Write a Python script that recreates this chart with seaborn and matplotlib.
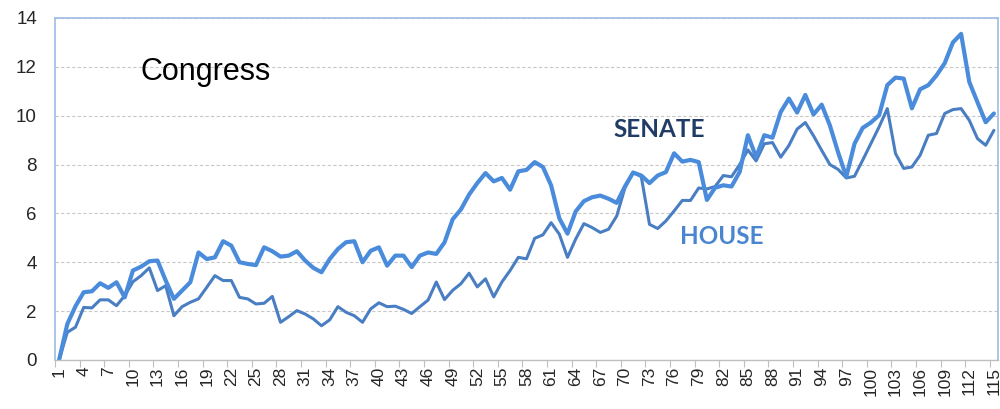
import pandas as pd
import seaborn as sns
import matplotlib.pyplot as plt
from matplotlib.ticker import FixedLocator

# congress numbers 1..115
congress = list(range(1, 116))

senate = [0, 1.47, 2.2, 2.77, 2.81, 3.14, 2.95, 3.18, 2.56, 3.66,
          3.82, 4.04, 4.07, 3.25, 2.5, 2.84, 3.18, 4.4, 4.13, 4.2,
          4.86, 4.68, 4.0, 3.93, 3.88, 4.61, 4.45, 4.23, 4.27, 4.45,
          4.07, 3.77, 3.59, 4.13, 4.54, 4.82, 4.86, 4.0, 4.47, 4.61,
          3.86, 4.27, 4.27, 3.8, 4.27, 4.4, 4.34, 4.81, 5.76, 6.16,
          6.77, 7.24, 7.65, 7.31, 7.45, 6.97, 7.72, 7.78, 8.1, 7.9,
          7.15, 5.8, 5.17, 6.08, 6.5, 6.66, 6.73, 6.6, 6.43, 7.1,
          7.67, 7.55, 7.24, 7.55, 7.69, 8.46, 8.12, 8.19, 8.1, 6.55,
          7.05, 7.15, 7.1, 7.7, 9.2, 8.3, 9.2, 9.1, 10.15, 10.7,
          10.13, 10.85, 10.05, 10.45, 9.6, 8.5, 7.5, 8.85, 9.5, 9.72,
          10.02, 11.25, 11.56, 11.52, 10.3, 11.08, 11.25, 11.65, 12.15, 13.0,
          13.35, 11.38, 10.55, 9.73, 10.09]

house = [0, 1.13, 1.34, 2.15, 2.13, 2.46, 2.46, 2.22, 2.63, 3.2,
         3.45, 3.77, 2.84, 3.04, 1.81, 2.18, 2.36, 2.5, 2.97, 3.45,
         3.25, 3.25, 2.56, 2.5, 2.29, 2.32, 2.6, 1.54, 1.77, 2.02,
         1.88, 1.68, 1.4, 1.64, 2.18, 1.95, 1.81, 1.54, 2.09, 2.34,
         2.18, 2.2, 2.07, 1.9, 2.18, 2.45, 3.19, 2.47, 2.85, 3.12,
         3.55, 2.99, 3.32, 2.58, 3.19, 3.66, 4.2, 4.14, 4.98, 5.12,
         5.62, 5.15, 4.2, 4.95, 5.58, 5.42, 5.22, 5.35, 5.89, 7.04,
         7.69, 7.5, 5.55, 5.38, 5.69, 6.1, 6.53, 6.53, 7.04, 7.0,
         7.1, 7.55, 7.5, 8.0, 8.6, 8.15, 8.85, 8.9, 8.3, 8.78,
         9.45, 9.72, 9.18, 8.58, 8.0, 7.8, 7.45, 7.52, 8.18, 8.86,
         9.54, 10.29, 8.45, 7.84, 7.9, 8.38, 9.2, 9.27, 10.09, 10.25,
         10.29, 9.81, 9.06, 8.79, 9.4]

tick_labels = [str(c) for c in congress[::3]]

df = pd.DataFrame({"congress": congress, "SENATE": senate, "HOUSE": house})

sns.set_style("white")
plt.rcParams['font.family'] = ['Liberation Sans', 'DejaVu Sans']

fig = plt.figure(figsize=(10, 4.09), dpi=100)
ax = fig.add_axes([0.055, 0.12, 0.943, 0.836])

sns.lineplot(data=df, x="congress", y="HOUSE", color="#4a7ec2", linewidth=2.2, ax=ax)
sns.lineplot(data=df, x="congress", y="SENATE", color="#4a8cdb", linewidth=3.0, ax=ax)

ax.set_xlim(0.5, 115.5)
ax.set_ylim(0, 14)
ax.set_yticks(range(0, 15, 2))
ax.yaxis.grid(True, linestyle=(0, (3, 2)), color="#c8c8c8", linewidth=0.8)
ax.set_axisbelow(True)

# labels on categories, tick marks on category boundaries
ax.set_xticks(congress[::3])
ax.set_xticklabels(tick_labels, rotation=90, fontsize=12.5)
ax.xaxis.set_minor_locator(FixedLocator([c - 0.5 for c in congress[::3]]))
ax.tick_params(axis="x", which="major", length=0, pad=5)
ax.tick_params(axis="x", which="minor", length=5, width=0.8, color="#bfbfbf", bottom=True)
ax.tick_params(axis="y", length=0, labelsize=13.5, pad=13)

ax.set_xlabel("")
ax.set_ylabel("")

for s in ["left", "top", "right"]:
    ax.spines[s].set_color("#9dbbe6")
    ax.spines[s].set_linewidth(1.2)
ax.spines["bottom"].set_color("#bfbfbf")
ax.spines["bottom"].set_linewidth(1.0)

ax.text(0.091, 0.842, "Congress", transform=ax.transAxes, fontsize=22,
        ha="left", va="center", color="black")
ax.text(0.592, 0.673, "SENATE", transform=ax.transAxes, fontsize=17.5,
        fontweight="bold", family=["Lato", "DejaVu Sans"],
        ha="left", va="center", color="#1f3b66")
ax.text(0.663, 0.36, "HOUSE", transform=ax.transAxes, fontsize=17.5,
        fontweight="bold", family=["Lato", "DejaVu Sans"],
        ha="left", va="center", color="#4a86d0")

plt.savefig("out.png", dpi=100)
